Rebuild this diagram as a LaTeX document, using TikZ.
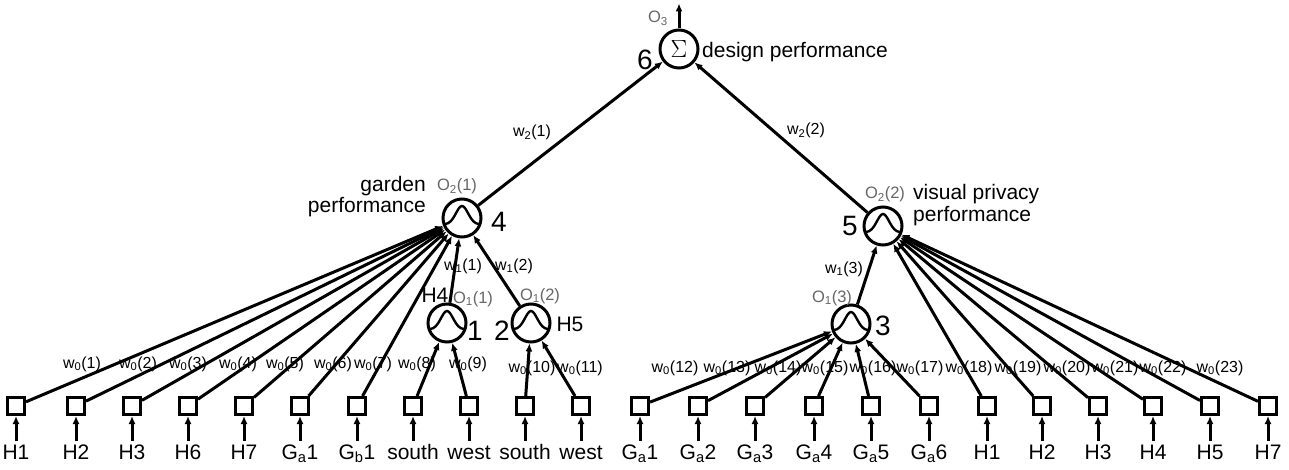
\documentclass[tikz,border=0pt]{standalone}
\usepackage{fontspec}
\setmainfont{Liberation Sans}
\usetikzlibrary{arrows.meta,calc}
\begin{document}
\begin{tikzpicture}[x=1pt,y=-1pt,
  conn/.style={line width=3, -{Latex[length=8,width=7]}},
  inbox/.style={draw, line width=3, minimum size=17, inner sep=0},
  neuron/.style={circle, draw, line width=3, minimum size=38, inner sep=0,
    path picture={\draw[line width=2.4] ($(path picture bounding box.center)+(-17,6)$)
      .. controls +(9,0) and +(-5,0) .. ++(17,-18)
      .. controls +(5,0) and +(-9,0) .. ++(17,18);}},
  sumnode/.style={circle, draw, line width=3, minimum size=38, inner sep=0},
  big/.style={font=\fontsize{28}{30}\selectfont, inner sep=0, anchor=base},
  lab/.style={font=\fontsize{21}{24}\selectfont, inner sep=0, anchor=base},
  wlab/.style={font=\fontsize{16}{18}\selectfont, inner sep=0, anchor=base},
  olab/.style={font=\fontsize{16.5}{18}\selectfont, inner sep=0, anchor=base, text=black!60},
]
\useasboundingbox (0,0) rectangle (1289,470);

% input squares and labels
\foreach \x/\t [count=\i] in {16/H1, 76/H2, 132/H3, 188/H6, 244/H7,
  300/{G\textsubscript{a}1}, 357/{G\textsubscript{b}1}, 413/south, 469/west,
  525/south, 581/west, 640/{G\textsubscript{a}1}, 698/{G\textsubscript{a}2},
  755/{G\textsubscript{a}3}, 814/{G\textsubscript{a}4}, 871/{G\textsubscript{a}5},
  929/{G\textsubscript{a}6}, 987/H1, 1042/H2, 1098/H3, 1153/H4, 1210/H5, 1268/H7}{
  \node[inbox] (s\i) at (\x,406) {};
  \node[lab] (t\i) at (\x,459) {\t};
  \draw[conn] ([yshift=-25]s\i.south) -- (s\i.south);
}

% neurons
\node[neuron] (n1) at (447,323) {};
\node[neuron] (n2) at (531,323) {};
\node[neuron] (n3) at (851,324) {};
\node[neuron] (n4) at (462,218) {};
\node[neuron] (n5) at (883,226) {};
\node[sumnode, font=\fontsize{34}{36}\selectfont] (n6) at (679,49) {$\Sigma$};

% connectors
\foreach \i in {1,...,7}{\draw[conn] (s\i) -- (n4);}
\draw[conn] (s8) -- (n1);
\draw[conn] (s9) -- (n1);
\draw[conn] (s10) -- (n2);
\draw[conn] (s11) -- (n2);
\draw[conn] (n1) -- (n4);
\draw[conn] (n2) -- (n4);
\foreach \i in {12,...,17}{\draw[conn] (s\i) -- (n3);}
\draw[conn] (n3) -- (n5);
\foreach \i in {18,...,23}{\draw[conn] (s\i) -- (n5);}
\draw[conn] (n4) -- (n6);
\draw[conn] (n5) -- (n6);
\coordinate (out) at ($(n6.north)+(0,-25)$);
\draw[conn] (n6.north) -- (out);

% node numbers
\node[big] (k1) at (475,340) {1};
\node[big] (k2) at (502,340) {2};
\node[big] (k3) at (883,335) {3};
\node[big] (k4) at (499,232) {4};
\node[big] (k5) at (850,236) {5};
\node[big] (k6) at (645,70) {6};

% text labels
\node[lab, anchor=base west] (dp) at (702,58) {design performance};
\node[lab, anchor=base east] (gp1) at (426,192) {garden};
\node[lab, anchor=base east] (gp2) at (426,213) {performance};
\node[lab, anchor=base west] (vp1) at (913,200) {visual privacy};
\node[lab, anchor=base west] (vp2) at (913,222) {performance};
\node[lab] (h4) at (435,302) {H4};
\node[lab] (h5) at (570,331) {H5};

% outputs
\node[olab] (o3) at (658,23) {O\textsubscript{3}};
\node[olab] (o21) at (457,191) {O\textsubscript{2}(1)};
\node[olab] (o22) at (885,199) {O\textsubscript{2}(2)};
\node[olab] (o11) at (473,303) {O\textsubscript{1}(1)};
\node[olab] (o12) at (540,300) {O\textsubscript{1}(2)};
\node[olab] (o13) at (832,302) {O\textsubscript{1}(3)};

% weights
\node[wlab] (w21) at (532,137) {w\textsubscript{2}(1)};
\node[wlab] (w22) at (806,135) {w\textsubscript{2}(2)};
\node[wlab] (w11) at (463,270) {w\textsubscript{1}(1)};
\node[wlab] (w12) at (514,270) {w\textsubscript{1}(2)};
\node[wlab] (w13) at (844,273) {w\textsubscript{1}(3)};
\foreach \x [count=\i] in {82,138,188,238,285,333,373,417,468}{
  \node[wlab] (wa\i) at (\x,368) {w\textsubscript{0}(\i)};
}
\foreach \x [count=\j from 10] in {532,580,675,727,778,825,873,920,969,1018,1067,1115,1163,1220}{
  \node[wlab] (wb\j) at (\x,372) {w\textsubscript{0}(\j)};
}
\end{tikzpicture}
\end{document}
